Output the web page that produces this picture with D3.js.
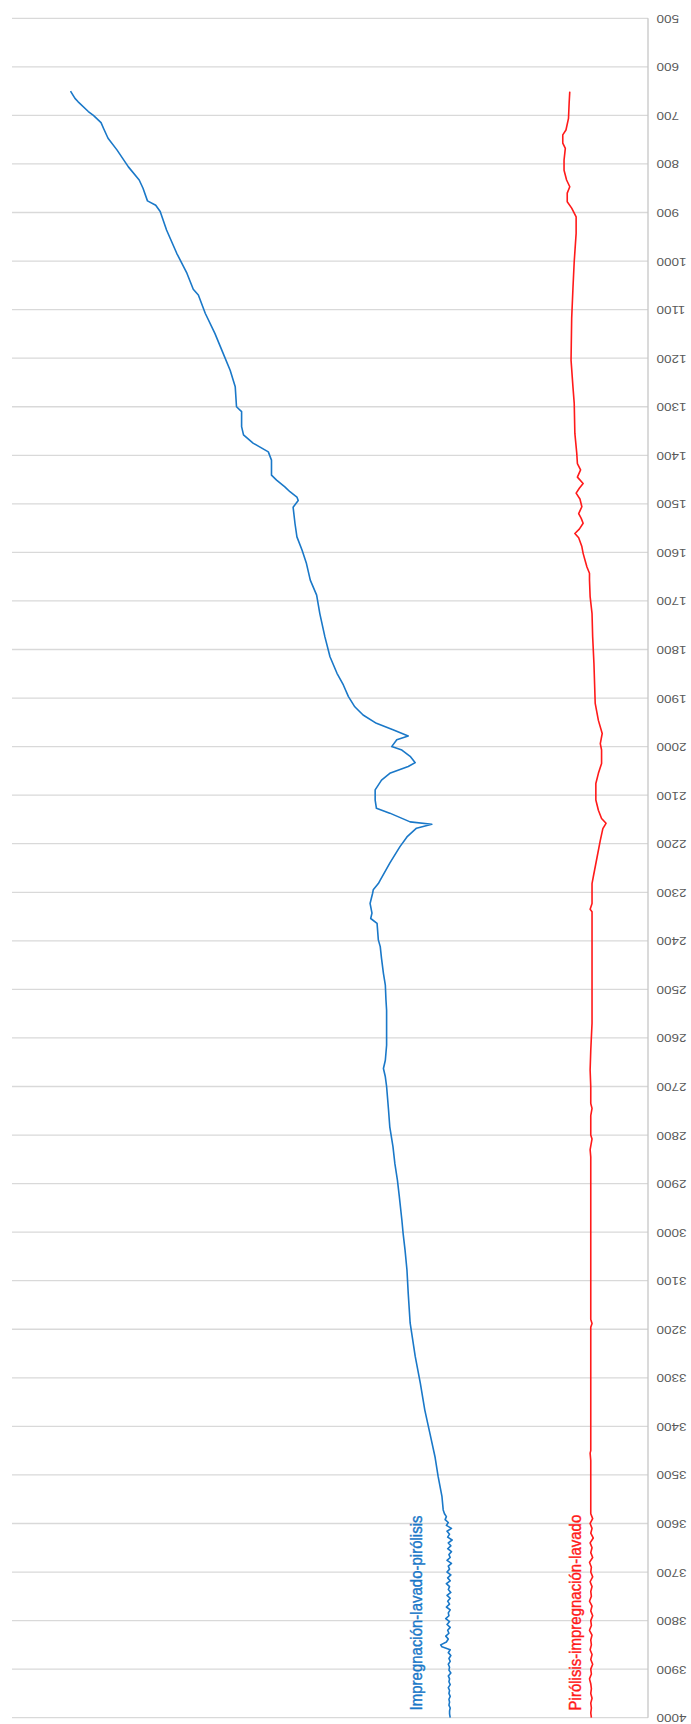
<!DOCTYPE html>
<html>
<head>
<meta charset="utf-8">
<script src="https://cdn.jsdelivr.net/npm/d3@7"></script>
<style>
  html, body { margin: 0; padding: 0; background: #ffffff; }
  svg { display: block; }
</style>
</head>
<body>
<svg id="chart" width="691" height="1724"></svg>
<script>
// FTIR spectra, wavenumber (cm-1) running down the page, transmittance across.
const tickValues = d3.range(500, 4001, 100);

const seriesNames = ["Impregnación-lavado-pirólisis", "Pirólisis-impregnación-lavado"];
const seriesColors = ["#1a78c8", "#ff1a1a"];

// Impregnación-lavado-pirólisis
const blueWave = [650,665,672,692,700,715,727,747,771,806,833,850,876,885,898,936,984,1025,1058,1070,
  1108,1149,1190,1225,1259,1300,1310,1341,1358,1375,1393,1410,1441,1451,1465,1475,1486,1493,1507,1541,
  1568,1595,1623,1657,1688,1726,1774,1815,1849,1873,1897,1918,1935,1952,1966,1978,1986,2000,2007,2020,
  2033,2041,2055,2069,2089,2110,2127,2137,2155,2160,2168,2186,2206,2240,2275,2282,2295,2302,2323,2343,
  2354,2364,2398,2412,2436,2467,2491,2522,2543,2615,2646,2663,2680,2700,2748,2783,2824,2859,2893,2927,
  2975,3003,3037,3078,3126,3187,3256,3311,3366,3414,3462,3503,3544,3572,
  3580,3586,3592,3598,3604,3610,3616,3622,3628,3634,3640,3646,3652,3658,3664,3670,3676,3682,3688,3694,
  3700,3706,3712,3718,3724,3730,3736,3742,3748,3754,3760,3766,3772,3778,3784,3790,3796,3802,3808,3814,
  3820,3826,3832,3838,3844,3850,3854,3860,3866,3872,3878,3884,3890,3896,3902,3908,3914,3920,3926,3932,
  3938,3944,3950,3956,3962,3968,3974,3980,3986,3992,4000];
const blueT = [9.2,9.9,10.4,12.0,12.8,14.0,14.4,15.1,16.5,18.3,20.0,20.6,21.3,22.6,23.3,24.3,25.9,27.5,28.5,29.3,
  30.4,31.9,33.2,34.3,35.1,35.3,36.1,36.1,36.4,37.9,40.3,40.8,40.8,41.6,42.9,43.7,44.8,45.0,44.2,44.5,
  44.8,45.6,46.3,46.9,47.9,48.4,49.2,50.0,51.1,52.1,52.9,53.9,55.2,57.3,60.0,62.3,60.5,59.7,61.3,62.6,
  63.4,62.3,59.4,58.1,57.1,57.1,57.3,59.4,62.6,66.0,63.6,62.1,61.0,59.4,57.9,57.6,56.8,56.7,56.3,56.6,
  56.4,57.4,57.6,57.9,58.1,58.4,58.7,58.8,58.9,58.9,58.7,58.4,58.7,58.9,59.2,59.4,59.9,60.2,60.6,60.9,
  61.3,61.5,61.8,62.1,62.3,62.6,63.4,64.2,64.9,65.7,66.5,67.0,67.6,67.8,
  68.0,68.3,68.1,68.6,68.3,69.1,68.4,68.8,68.5,69.2,68.6,69.0,68.5,69.1,68.7,68.9,68.4,69.1,68.6,68.8,
  68.4,69.0,68.5,68.9,68.3,68.8,68.6,69.0,68.4,68.9,68.5,68.8,68.3,68.9,68.6,68.7,68.2,68.8,68.4,68.9,
  68.5,68.7,68.2,68.6,68.3,67.4,67.6,68.9,68.6,69.0,68.7,68.9,68.6,68.8,68.7,69.0,68.6,68.8,68.7,68.9,
  68.6,68.8,68.7,68.9,68.7,68.8,68.7,68.9,68.8,68.8,68.9];

// Pirólisis-impregnación-lavado
const redWave = [651,675,706,730,740,757,768,792,813,833,847,860,878,891,909,943,1001,1056,1118,1204,
  1259,1293,1355,1396,1417,1430,1445,1458,1468,1478,1490,1506,1520,1530,1540,1552,1561,1570,1588,1602,
  1616,1630,1643,1657,1691,1726,1774,1829,1911,1946,1973,1994,2007,2035,2055,2076,2110,2131,2148,2158,
  2169,2193,2234,2268,2282,2323,2335,2340,2351,2570,2626,2666,2700,2735,2745,2760,2800,2808,2830,2845,
  3000,3180,3188,3196,3450,3455,3470,3580,3590,3600,3610,3620,3630,3640,3650,3660,3670,3680,3690,3700,
  3710,3720,3730,3740,3750,3760,3770,3780,3790,3800,3810,3820,3830,3840,3850,3860,3870,3880,3890,3900,
  3910,3920,3930,3940,3950,3960,3970,3980,3990,4000];
const redT = [87.7,87.6,87.5,87.1,86.6,86.6,87.0,86.8,86.8,87.2,87.7,87.3,87.3,88.0,88.7,88.7,88.4,88.2,88.0,87.9,
  88.2,88.4,88.5,88.8,88.9,89.4,88.9,89.8,89.2,88.7,89.3,89.6,89.1,89.5,89.8,89.2,88.5,89.1,89.6,89.8,
  90.1,90.4,90.8,90.8,90.9,91.2,91.3,91.5,91.7,92.2,92.8,92.5,92.7,92.7,92.2,91.8,91.8,92.2,92.7,93.4,
  92.9,92.5,91.9,91.4,91.2,91.2,90.9,91.2,91.2,91.2,91.0,90.9,91.0,91.0,91.2,91.0,91.0,91.2,90.9,91.0,
  91.0,91.0,91.2,91.0,91.0,90.9,91.0,91.0,91.3,90.9,91.2,91.0,91.4,90.9,91.2,91.0,91.3,90.8,91.1,91.0,
  91.3,90.9,91.2,91.0,91.1,90.8,91.2,91.0,91.3,91.0,91.1,90.8,91.2,91.0,91.1,90.9,91.2,91.0,91.3,91.0,
  91.1,90.8,91.0,91.1,91.0,91.2,91.0,91.1,91.0,91.1];

const svg = d3.select("#chart");

const y = d3.scaleLinear().domain([500, 4000]).range([18.3, 1717.7]);
const x = d3.scaleLinear().domain([0, 100]).range([12, 648]);

// horizontal gridlines
svg.append("g")
  .selectAll("line")
  .data(tickValues)
  .join("line")
  .attr("x1", x(0)).attr("x2", x(100))
  .attr("y1", d => y(d)).attr("y2", d => y(d))
  .attr("stroke", "#d9d9d9")
  .attr("stroke-width", 1.3);

// wavenumber axis on the right, labels turned upside down
const axisG = svg.append("g").attr("transform", `translate(${x(100)},0)`);
axisG.append("line")
  .attr("y1", y(500)).attr("y2", y(4000))
  .attr("stroke", "#c6c6c6").attr("stroke-width", 1.3);
axisG.selectAll("text")
  .data(tickValues)
  .join("text")
  .attr("transform", d => `translate(8.5,${y(d)}) scale(1.28,1) rotate(180)`)
  .attr("text-anchor", "end")
  .attr("dominant-baseline", "central")
  .attr("font-family", "'Liberation Sans', Arial, sans-serif")
  .attr("font-size", 10.5)
  .attr("fill", "#595959")
  .text(d => d);

const line = d3.line()
  .x(d => x(d[1]))
  .y(d => y(d[0]))
  .curve(d3.curveLinear);

const series = [
  { name: seriesNames[0], color: seriesColors[0], pts: d3.zip(blueWave, blueT), labelT: 64.4 },
  { name: seriesNames[1], color: seriesColors[1], pts: d3.zip(redWave, redT), labelT: 89.5 }
];

svg.append("g")
  .selectAll("path")
  .data(series)
  .join("path")
  .attr("d", d => line(d.pts))
  .attr("fill", "none")
  .attr("stroke", d => d.color)
  .attr("stroke-width", 1.6)
  .attr("stroke-linejoin", "round");

// series names written vertically beside their traces
svg.append("g")
  .selectAll("text")
  .data(series)
  .join("text")
  .attr("transform", d => `translate(${x(d.labelT)},${y(3985)}) rotate(-90) scale(1,1.1)`)
  .attr("text-anchor", "start")
  .attr("font-family", "'Liberation Sans', Arial, sans-serif")
  .attr("font-size", 15)
  .attr("fill", d => d.color)
  .attr("stroke", d => d.color)
  .attr("stroke-width", 0.35)
  .text(d => d.name);
</script>
</body>
</html>
